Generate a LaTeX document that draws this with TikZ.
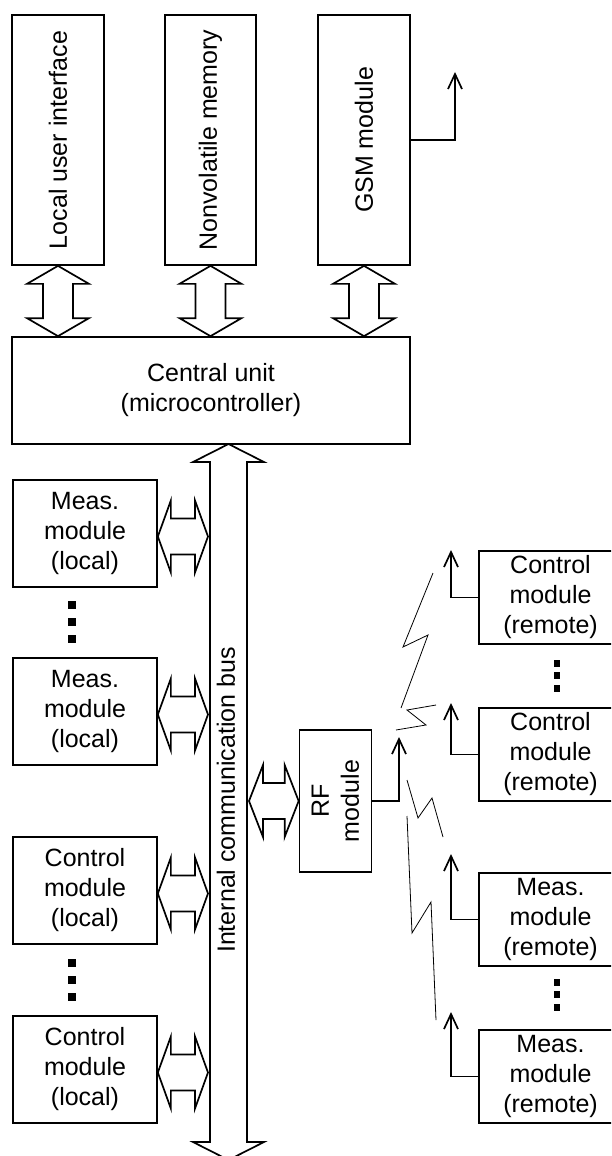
\documentclass[tikz,border=0pt]{standalone}
\usepackage{fontspec}
\setmainfont{Liberation Sans}
\usetikzlibrary{arrows.meta}
\newcommand\vbi[5]{\draw[biarrow] (#1) -- ++(#3,#5) -- ++({#4-#3},0) -- ([shift={(#4,-#5)}]#2) -- ++({#3-#4},0) -- (#2) -- ++(-#3,-#5) -- ++({#3-#4},0) -- ([shift={(-#4,#5)}]#1) -- ++({#4-#3},0) -- cycle;}
\newcommand\hbi[5]{\draw[biarrow] (#1) -- ++(#5,-#3) -- ++(0,{#3-#4}) -- ([shift={(-#5,-#4)}]#2) -- ++(0,{#4-#3}) -- (#2) -- ++(-#5,#3) -- ++(0,{#4-#3}) -- ([shift={(#5,#4)}]#1) -- ++(0,{#3-#4}) -- cycle;}
\newcommand\sqdot[4]{\fill ({#1-#3/2},{#2-#4/2}) rectangle ({#1+#3/2},{#2+#4/2});}
\begin{document}
\begin{tikzpicture}[x=1pt,y=-1pt,
  box/.style={draw, line width=1.7pt, inner sep=0pt, align=center,
    font=\fontsize{25}{30}\selectfont},
  vlabel/.style={rotate=90, font=\fontsize{25}{30}\selectfont, inner sep=0pt},
  biarrow/.style={draw, line width=1.7pt, fill=white, line join=miter},
  link/.style={line width=1.7pt, -{Straight Barb[length=15pt,width=14pt]}},
  zig/.style={line width=0.8pt}]
\useasboundingbox (0,0) rectangle (611,1156);
\clip (0,0) rectangle (611,1156);

% top boxes
\node[box, minimum width=92pt, minimum height=250pt,
  label={[vlabel]center:Local user interface}] (lui) at (58,140) {};
\node[box, minimum width=91pt, minimum height=250pt,
  label={[vlabel]center:Nonvolatile memory}] (nvm) at (210.5,140) {};
\node[box, minimum width=92pt, minimum height=250pt,
  label={[vlabel]center:GSM module}] (gsm) at (364,140) {};
\node[box, minimum width=398pt, minimum height=107pt] (cu) at (211,390.5)
  {Central unit\\(microcontroller)};

% local modules
\node[box, minimum width=144pt, minimum height=107pt] (ml1) at (85,533.5) {Meas.\\module\\(local)};
\node[box, minimum width=144pt, minimum height=107pt] (ml2) at (85,711.5) {Meas.\\module\\(local)};
\node[box, minimum width=144pt, minimum height=107pt] (cl1) at (85,890.5) {Control\\module\\(local)};
\node[box, minimum width=144pt, minimum height=107pt] (cl2) at (85,1069.5) {Control\\module\\(local)};

% RF module
\node[box, minimum width=72pt, minimum height=142pt,
  label={[vlabel, align=center]center:RF\\module}] (rf) at (335.5,801) {};

% remote modules
\node[box, minimum width=143pt, minimum height=93pt] (cr1) at (550.5,597.5) {Control\\module\\(remote)};
\node[box, minimum width=143pt, minimum height=93pt] (cr2) at (550.5,754.5) {Control\\module\\(remote)};
\node[box, minimum width=143pt, minimum height=93pt] (mr1) at (550.5,919.5) {Meas.\\module\\(remote)};
\node[box, minimum width=143pt, minimum height=93pt] (mr2) at (550.5,1076.5) {Meas.\\module\\(remote)};

% top double arrows
\vbi{lui.south}{cu.north -| lui.south}{31}{15}{18}
\vbi{nvm.south}{cu.north -| nvm.south}{31}{15}{18}
\vbi{gsm.south}{cu.north -| gsm.south}{31}{15}{18}

% bus
\coordinate (bt) at (228.5,444);
\coordinate (bb) at (228.5,1160);
\vbi{bt}{bb}{35.5}{18.5}{18}
\node[vlabel] (buslabel) at (226,800) {Internal communication bus};

% bus to local modules
\coordinate (bl) at (208,0);
\coordinate (m1a) at ([yshift=-3pt]ml1.east); \coordinate (m1b) at (m1a -| bl);
\coordinate (m2a) at ([yshift=-3pt]ml2.east); \coordinate (m2b) at (m2a -| bl);
\coordinate (c1a) at ([yshift=-3pt]cl1.east); \coordinate (c1b) at (c1a -| bl);
\coordinate (c2a) at ([yshift=-3pt]cl2.east); \coordinate (c2b) at (c2a -| bl);
\hbi{m1a}{m1b}{36}{18}{13}
\hbi{m2a}{m2b}{36}{18}{13}
\hbi{c1a}{c1b}{36}{18}{13}
\hbi{c2a}{c2b}{36}{18}{13}

% bus to RF
\coordinate (br) at (249,0);
\coordinate (rfa) at (rf.west -| br);
\hbi{rfa}{rf.west}{36}{18}{14}

% dots
\sqdot{72}{605}{8}{8}\sqdot{72}{622}{8}{8}\sqdot{72}{639}{8}{8}
\sqdot{72}{963}{8}{8}\sqdot{72}{980}{8}{8}\sqdot{72}{997}{8}{8}
\sqdot{557}{663}{6}{7}\sqdot{557}{675.5}{6}{7}\sqdot{557}{688}{6}{7}
\sqdot{557}{982}{6}{7}\sqdot{557}{994.5}{6}{7}\sqdot{557}{1007}{6}{7}

% antennas
\coordinate (gsmant) at (455,72);
\coordinate (rfant) at (399,737);
\coordinate (a1) at (451,550);
\coordinate (a2) at (451,703);
\coordinate (a3) at (451,854);
\coordinate (a4) at (451,1012);
\draw[link] (gsm.east) -| (gsmant);
\draw[link] (rf.east) -| (rfant);
\draw[link] (cr1.west) -| (a1);
\draw[link] (cr2.west) -| (a2);
\draw[link] (mr1.west) -| (a3);
\draw[link] (mr2.west) -| (a4);

% radio links
\draw[zig] (433,573) -- (403,647) -- (428,635) -- (401,708);
\draw[zig] (436,705) -- (407,710) -- (426,725) -- (396,730);
\draw[zig] (407,780) -- (418,818) -- (432,798) -- (443,837);
\draw[zig] (407,816) -- (412,933) -- (431,902) -- (436,1020);
\end{tikzpicture}
\end{document}
